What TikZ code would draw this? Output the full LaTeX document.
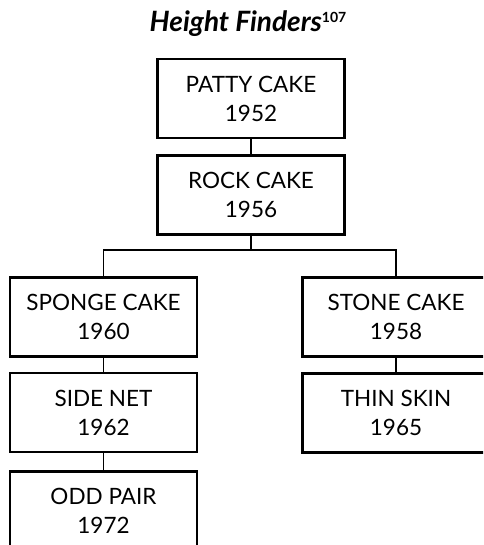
\documentclass[tikz,border=0pt]{standalone}
\usepackage{fontspec}
\setmainfont{Lato}
\usepackage{tikz}
\usetikzlibrary{positioning, calc}

\begin{document}
\begin{tikzpicture}[x=1pt, y=-1pt,
  cakebox/.style={draw=black, line width=2.4pt, minimum height=79pt, minimum width=187pt, align=center, font=\fontsize{22.5}{29}\selectfont, inner sep=0pt},
  link/.style={draw=black, line width=1.6pt}]
  \clip (0, 0) rectangle (483, 545);
  \useasboundingbox (0, 0) rectangle (483, 545);
  \node[font=\fontsize{28}{30}\selectfont\bfseries\itshape] (t) at (248, 24) {Height Finders\raisebox{9pt}{\fontsize{14}{14}\selectfont\upshape 107}};
  \node[cakebox] (a) at (251, 98.5) {PATTY CAKE\\1952};
  \node[cakebox] (b) at (251, 195) {ROCK CAKE\\1956};
  \node[cakebox] (c) at (103.5, 317) {SPONGE CAKE\\1960};
  \node[cakebox] (d) at (103.5, 412.5) {SIDE NET\\1962};
  \node[cakebox] (e) at (103.5, 511) {ODD PAIR\\1972};
  \node[cakebox] (f) at (396, 317) {STONE CAKE\\1958};
  \node[cakebox] (g) at (396, 413) {THIN SKIN\\1965};
  \coordinate (s) at (251, 250);
  \draw[link] (a.south) -- (b.north);
  \draw[link] (b.south) -- (s);
  \draw[link] (c.north) |- (s) -| (f.north);
  \draw[link] (c.south) -- (d.north);
  \draw[link] (d.south) -- (e.north);
  \draw[link] (f.south) -- (g.north);
\end{tikzpicture}
\end{document}
